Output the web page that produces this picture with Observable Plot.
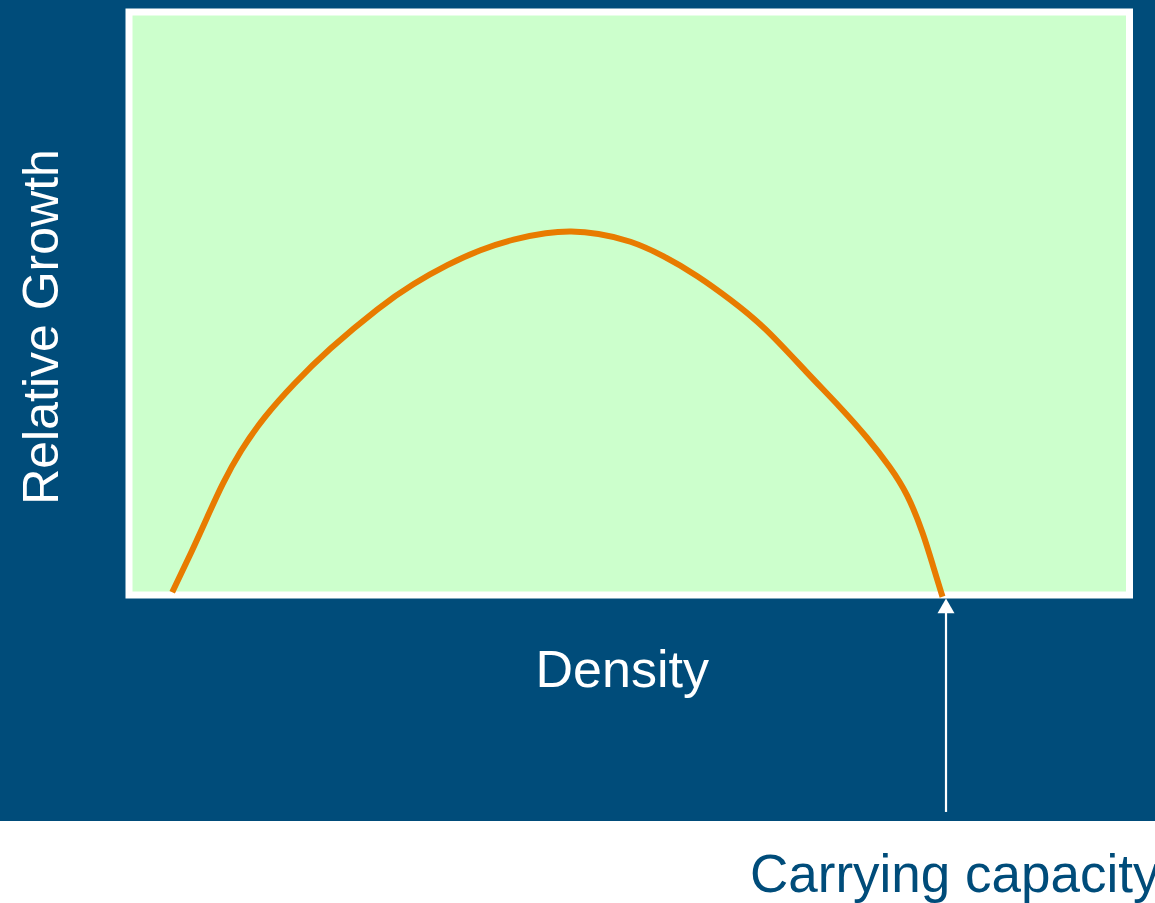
<!DOCTYPE html>
<html>
<head>
<meta charset="utf-8">
<script src="https://cdn.jsdelivr.net/npm/d3@7"></script>
<script src="https://cdn.jsdelivr.net/npm/@observablehq/plot@0.6"></script>
<style>
  html, body { margin: 0; padding: 0; background: #ffffff; overflow: hidden; }
  #wrap { width: 1155px; }
  #chart { width: 1155px; height: 821px; background: #004c7a; }
  #chart svg { display: block; }
  #caption { position: relative; width: 1155px; height: 82px; overflow: hidden; background: #ffffff; }
  #caption span { position: absolute; left: 750px; top: 25.8px; font-family: "Liberation Sans", Arial, sans-serif; font-size: 53px; line-height: 53px; color: #004c7a; white-space: nowrap; }
</style>
</head>
<body>
<div id="wrap">
  <div id="chart"></div>
  <div id="caption"><span id="captext"></span></div>
</div>
<script>
// Curve: relative growth vs density (both in 0-100 units of the plot frame)
const density = [4.32, 6.32, 7.82, 9.32, 11.14, 13.47, 16.47, 19.81, 25.14, 28.44, 31.83, 35.13, 38.43, 41.83, 44.13, 46.83, 50.12, 53.42, 56.82, 60.12, 63.42, 67.82, 71.11, 73.81, 76.11, 77.81, 79.41, 80.41, 81.31];
const growth  = [0.48, 7.63, 13.34, 19.07, 24.79, 30.5, 36.23, 41.94, 49.6, 53.43, 56.69, 59.26, 61.06, 62.18, 62.43, 62.09, 60.81, 58.23, 54.8, 50.69, 46.23, 38.0, 32.2, 27.0, 21.9, 17.4, 10.5, 4.7, -0.3];

// Carrying capacity marker
const carryingCapacity = 81.66;
const arrowFrom = -37.3;
const arrowTipCenter = -2.28;

// Labels
const xLabel = "Density";
const yLabel = "Relative Growth";
const capLabel = "Carrying capacity";
const xLabelPos = {x: 49.3, y: -13.0};
const yLabelPos = {x: -8.65, y: 45.97};

const curve = density.map((d, i) => ({density: d, growth: growth[i]}));

const chart = Plot.plot({
  width: 1155,
  height: 821,
  marginLeft: 128.5,
  marginRight: 26,
  marginTop: 11.5,
  marginBottom: 226.5,
  x: {domain: [0, 100], axis: null},
  y: {domain: [0, 100], axis: null},
  style: {background: "#004c7a", fontFamily: "'Liberation Sans', Arial, sans-serif", overflow: "visible"},
  marks: [
    Plot.frame({fill: "#ccffcc", stroke: "white", strokeWidth: 7}),
    Plot.line(curve, {x: "density", y: "growth", stroke: "#e87b00", strokeWidth: 6, curve: "basis", strokeLinecap: "butt", strokeLinejoin: "round"}),
    Plot.ruleX([carryingCapacity], {y1: arrowFrom, y2: arrowTipCenter, stroke: "white", strokeWidth: 2.2}),
    Plot.dot([carryingCapacity], {x: d => d, y: () => arrowTipCenter, symbol: "triangle", r: 6.3, fill: "white", stroke: "none"}),
    Plot.text([xLabel], {x: () => xLabelPos.x, y: () => xLabelPos.y, text: d => d, fill: "white", fontSize: 52, textAnchor: "middle", lineAnchor: "middle"}),
    Plot.text([yLabel], {x: () => yLabelPos.x, y: () => yLabelPos.y, text: d => d, fill: "white", fontSize: 50, textAnchor: "middle", lineAnchor: "middle", rotate: -90})
  ]
});
document.getElementById("chart").appendChild(chart);
document.getElementById("captext").textContent = capLabel;
</script>
</body>
</html>
